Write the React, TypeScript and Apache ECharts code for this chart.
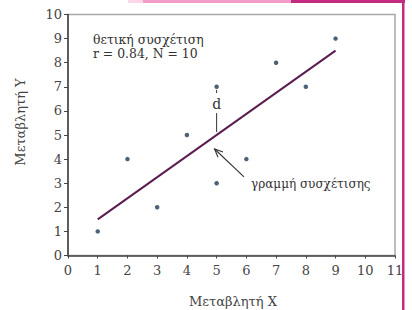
import React, { useEffect, useRef } from "react";
import * as echarts from "echarts";

const pointsX = [1, 2, 3, 4, 5, 5, 6, 7, 8, 9];
const pointsY = [1, 4, 2, 5, 7, 3, 4, 8, 7, 9];
const fitLine = [
  [1, 1.5],
  [9, 8.5],
];
const dUpper = [
  [5, 6.87],
  [5, 6.74],
];
const dLower = [
  [5, 5.91],
  [5, 5.12],
];
const dLabelPos = [5, 6.3];
const arrowFrom = [5.92, 3.26];
const arrowTo = [4.93, 4.42];
const xTicks = [0, 1, 2, 3, 4, 5, 6, 7, 8, 9, 10, 11];
const yTicks = [0, 1, 2, 3, 4, 5, 6, 7, 8, 9, 10];

const FONT = "'DejaVu Serif', 'Liberation Serif', serif";

export default function App() {
  const ref = useRef<HTMLDivElement>(null);
  useEffect(() => {
    if (!ref.current) return;
    const chart = echarts.init(ref.current, undefined, { renderer: "svg" });
    const scatter = pointsX.map((x, i) => [x, pointsY[i]]);
    const annot = [[arrowFrom[0], arrowFrom[1], arrowTo[0], arrowTo[1]]];
    chart.setOption({
      animation: false,
      backgroundColor: "#ffffff",
      grid: {
        left: 68,
        right: 17,
        top: 14.5,
        bottom: 54.5,
        containLabel: false,
        show: true,
        borderColor: "#a8a8a8",
        borderWidth: 1.5,
      },
      xAxis: {
        type: "value",
        min: xTicks[0],
        max: xTicks[xTicks.length - 1],
        interval: 1,
        axisLine: { show: true, onZero: false, lineStyle: { color: "#444", width: 1.6 } },
        axisTick: { show: true, length: 3, lineStyle: { color: "#444" } },
        axisLabel: { margin: 8, fontSize: 13, color: "#444", fontFamily: FONT },
        splitLine: { show: false },
      },
      yAxis: {
        type: "value",
        min: yTicks[0],
        max: yTicks[yTicks.length - 1],
        interval: 1,
        axisLine: { show: true, onZero: false, lineStyle: { color: "#444", width: 1.6 } },
        axisTick: { show: true, length: 4, lineStyle: { color: "#444" } },
        axisLabel: { margin: 6, fontSize: 13, color: "#444", fontFamily: FONT },
        splitLine: { show: false },
      },
      series: [
        {
          type: "line",
          data: fitLine,
          symbol: "none",
          lineStyle: { color: "#5b1d4f", width: 2 },
          z: 3,
        },
        {
          type: "scatter",
          data: scatter,
          symbolSize: 4.5,
          itemStyle: { color: "#1f3b58" },
          z: 4,
        },
        {
          type: "line",
          data: dUpper,
          symbol: "none",
          lineStyle: { color: "#333", width: 1 },
        },
        {
          type: "line",
          data: dLower,
          symbol: "none",
          lineStyle: { color: "#333", width: 1 },
        },
        {
          type: "custom",
          data: annot,
          renderItem: (params: any, api: any) => {
            const p0 = api.coord([api.value(0), api.value(1)]);
            const p1 = api.coord([api.value(2), api.value(3)]);
            const dp = api.coord(dLabelPos);
            const ang = Math.atan2(p0[1] - p1[1], p0[0] - p1[0]);
            const hl = 9;
            const spread = 0.42;
            const h1 = [p1[0] + hl * Math.cos(ang + spread), p1[1] + hl * Math.sin(ang + spread)];
            const h2 = [p1[0] + hl * Math.cos(ang - spread), p1[1] + hl * Math.sin(ang - spread)];
            return {
              type: "group",
              children: [
                {
                  type: "line",
                  shape: { x1: p0[0], y1: p0[1], x2: p1[0], y2: p1[1] },
                  style: { stroke: "#333", lineWidth: 1.1 },
                },
                {
                  type: "polyline",
                  shape: { points: [h1, p1, h2] },
                  style: { stroke: "#333", lineWidth: 1.1, fill: "none" },
                },
                {
                  type: "text",
                  x: dp[0],
                  y: dp[1],
                  style: {
                    text: "d",
                    fontSize: 14,
                    fontFamily: FONT,
                    fill: "#333",
                    align: "center",
                    verticalAlign: "middle",
                  },
                },
              ],
            };
          },
          z: 5,
        },
      ],
      graphic: [
        { type: "rect", shape: { x: 128, y: 0, width: 16, height: 3 }, style: { fill: "#fbd7e8" } },
        { type: "rect", shape: { x: 143, y: 0, width: 148, height: 3 }, style: { fill: "#f49cc9" } },
        { type: "rect", shape: { x: 291, y: 0, width: 114, height: 3 }, style: { fill: "#c42a80" } },
        { type: "rect", shape: { x: 402, y: 0, width: 2.5, height: 310 }, style: { fill: "#c42a80" } },
        {
          type: "text",
          x: 93,
          y: 39,
          style: {
            text: "θετική συσχέτιση",
            fontSize: 12.4,
            fontFamily: FONT,
            fill: "#333",
            verticalAlign: "middle",
          },
        },
        {
          type: "text",
          x: 93,
          y: 53,
          style: {
            text: "r = 0.84, N = 10",
            fontSize: 12.4,
            fontFamily: FONT,
            fill: "#333",
            verticalAlign: "middle",
          },
        },
        {
          type: "text",
          x: 251,
          y: 184,
          style: {
            text: "γραμμή συσχέτισης",
            fontSize: 12,
            fontFamily: FONT,
            fill: "#333",
            verticalAlign: "middle",
          },
        },
        {
          type: "text",
          x: 20,
          y: 122,
          rotation: Math.PI / 2,
          style: {
            text: "Μεταβλητή Υ",
            fontSize: 13,
            fontFamily: FONT,
            fill: "#444",
            align: "center",
            verticalAlign: "middle",
          },
        },
        {
          type: "text",
          x: 233,
          y: 301,
          style: {
            text: "Μεταβλητή Χ",
            fontSize: 13,
            fontFamily: FONT,
            fill: "#444",
            align: "center",
            verticalAlign: "middle",
          },
        },
      ],
    });
    return () => chart.dispose();
  }, []);
  return <div ref={ref} style={{ width: 412, height: 310, position: "fixed", left: 0, top: 0 }} />;
}
